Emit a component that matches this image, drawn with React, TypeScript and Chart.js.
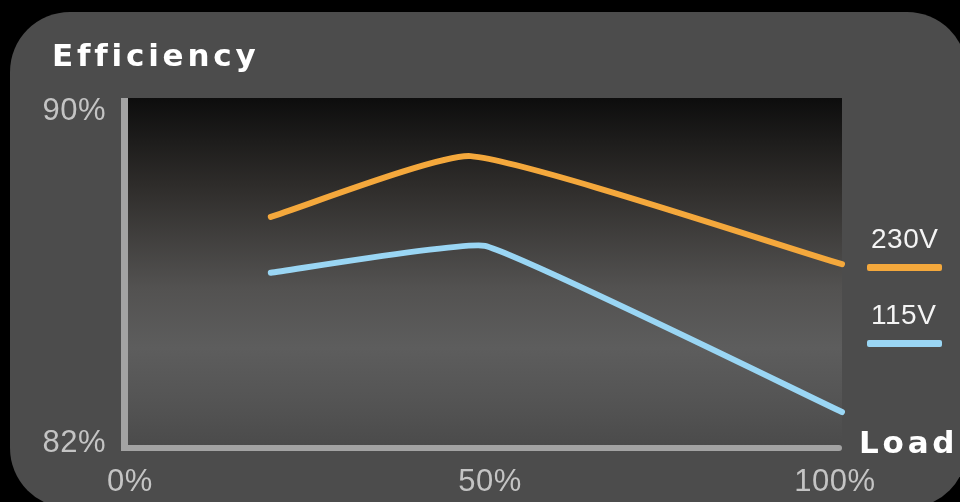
import { useEffect, useRef } from "react";
import { Chart, registerables } from "chart.js";

Chart.register(...registerables);

// ---- data ----
const seriesLabels = ["230V", "115V"];
const load230 = [20, 48, 100];
const eff230 = [87.26, 88.66, 86.17];
const load115 = [20, 50, 100];
const eff115 = [85.97, 86.59, 82.76];
const xTicks = [0, 50, 100];
const yTicks = [82, 90];
const seriesColors = ["#f4a83c", "#9ad6f4"];
const titleText = "Efficiency";
const xTitleText = "Load";

function roundRectPath(ctx: CanvasRenderingContext2D, x: number, y: number, w: number, h: number, r: number) {
  ctx.beginPath();
  ctx.moveTo(x + r, y);
  ctx.lineTo(x + w - r, y);
  ctx.arcTo(x + w, y, x + w, y + r, r);
  ctx.lineTo(x + w, y + h - r);
  ctx.arcTo(x + w, y + h, x + w - r, y + h, r);
  ctx.lineTo(x + r, y + h);
  ctx.arcTo(x, y + h, x, y + h - r, r);
  ctx.lineTo(x, y + r);
  ctx.arcTo(x, y, x + r, y, r);
  ctx.closePath();
}

function setSpacing(ctx: any, px: number) {
  if ("letterSpacing" in ctx) ctx.letterSpacing = px + "px";
}

const decorPlugin = {
  id: "decor",
  beforeDraw(chart: any) {
    const { ctx, chartArea: a, width, height } = chart;
    ctx.save();
    ctx.fillStyle = "#000";
    ctx.fillRect(0, 0, width, height);
    ctx.fillStyle = "#4c4c4c";
    roundRectPath(ctx, 10, 12, 957, 496, 60);
    ctx.fill();

    const g = ctx.createLinearGradient(0, a.top, 0, a.bottom);
    g.addColorStop(0, "#0d0d0d");
    g.addColorStop(0.25, "#2e2c2a");
    g.addColorStop(0.55, "#535251");
    g.addColorStop(0.72, "#5d5d5d");
    g.addColorStop(0.86, "#555555");
    g.addColorStop(1, "#4b4b4b");
    ctx.fillStyle = g;
    ctx.fillRect(a.left, a.top, a.right - a.left, a.bottom - a.top);

    // axis bars
    ctx.fillStyle = "#a3a3a3";
    ctx.fillRect(a.left - 7, a.top, 7, a.bottom - a.top + 6);
    ctx.beginPath();
    ctx.moveTo(a.left - 7, a.bottom);
    ctx.lineTo(a.right - 3, a.bottom);
    ctx.arc(a.right - 3, a.bottom + 3, 3, -Math.PI / 2, Math.PI / 2);
    ctx.lineTo(a.left - 7, a.bottom + 6);
    ctx.closePath();
    ctx.fill();
    ctx.restore();
  },
  afterDraw(chart: any) {
    const { ctx, chartArea: a } = chart;
    const xs = chart.scales.x;
    const ys = chart.scales.y;
    ctx.save();

    // y tick labels
    ctx.font = "31px 'Liberation Sans', Arial, sans-serif";
    ctx.fillStyle = "#c4c4c4";
    setSpacing(ctx, 0.5);
    ctx.textAlign = "right";
    ctx.textBaseline = "alphabetic";
    yTicks.forEach((v, i) => {
      const py = ys.getPixelForValue(v);
      const off = i === yTicks.length - 1 ? 22 : 7;
      ctx.fillText(v + "%", a.left - 22, py + off);
    });

    // x tick labels
    ctx.textAlign = "center";
    const xOff = [2, 5, -7];
    xTicks.forEach((v, i) => {
      const px = xs.getPixelForValue(v);
      ctx.fillText(v + "%", px + (xOff[i] || 0), a.bottom + 46);
    });

    // title and x title
    ctx.font = "bold 31px 'DejaVu Sans', Verdana, sans-serif";
    ctx.fillStyle = "#ffffff";
    setSpacing(ctx, 3.8);
    ctx.textAlign = "left";
    ctx.fillText(titleText, 52, 66);
    ctx.fillText(xTitleText, a.right + 17, a.bottom + 8);

    // legend
    ctx.font = "28px 'Liberation Sans', Arial, sans-serif";
    setSpacing(ctx, 0.5);
    ctx.fillStyle = "#f4f4f4";
    const legendTop = [248, 324];
    seriesLabels.forEach((lab, i) => {
      const base = legendTop[i];
      ctx.fillText(lab, a.right + 29, base);
      ctx.fillStyle = seriesColors[i];
      roundRectPath(ctx, a.right + 25, base + 16, 75, 7, 2);
      ctx.fill();
      ctx.fillStyle = "#f4f4f4";
    });
    ctx.restore();
  },
};

export default function App() {
  const ref = useRef<HTMLCanvasElement | null>(null);
  useEffect(() => {
    if (!ref.current) return;
    const chart = new Chart(ref.current, {
      type: "line",
      data: {
        datasets: [
          {
            label: seriesLabels[0],
            data: load230.map((x, i) => ({ x, y: eff230[i] })),
            borderColor: seriesColors[0],
            borderWidth: 6,
            borderCapStyle: "round",
            borderJoinStyle: "round",
            tension: 0.15,
            pointRadius: 0,
            fill: false,
            clip: false as any,
          },
          {
            label: seriesLabels[1],
            data: load115.map((x, i) => ({ x, y: eff115[i] })),
            borderColor: seriesColors[1],
            borderWidth: 6,
            borderCapStyle: "round",
            borderJoinStyle: "round",
            tension: 0.1,
            pointRadius: 0,
            fill: false,
            clip: false as any,
          },
        ],
      },
      options: {
        animation: false,
        responsive: false,
        devicePixelRatio: 1,
        layout: { padding: { left: 128, right: 118, top: 98, bottom: 57 } },
        scales: {
          x: { type: "linear", min: 0, max: 100, display: false },
          y: { type: "linear", min: 82, max: 90, display: false },
        },
        plugins: {
          legend: { display: false },
          tooltip: { enabled: false },
        },
      },
      plugins: [decorPlugin],
    } as any);
    return () => chart.destroy();
  }, []);
  return (
    <div style={{ position: "fixed", left: 0, top: 0, width: 960, height: 502, background: "#000" }}>
      <canvas ref={ref} width={960} height={502} style={{ display: "block" }} />
    </div>
  );
}
